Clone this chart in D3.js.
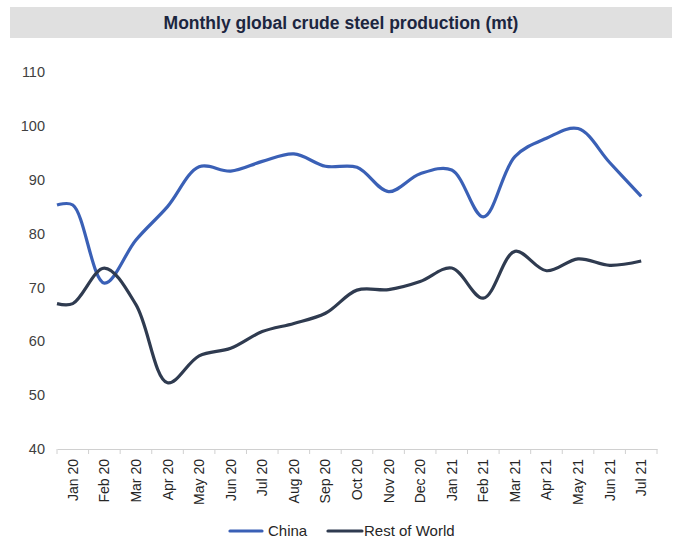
<!DOCTYPE html>
<html>
<head>
<meta charset="utf-8">
<script src="https://cdn.jsdelivr.net/npm/d3@7"></script>
<style>
  body { margin: 0; background: #fff; font-family: "Liberation Sans", Arial, sans-serif; }
</style>
</head>
<body>
<script>
// data
const months = ['Jan 20', 'Feb 20', 'Mar 20', 'Apr 20', 'May 20', 'Jun 20', 'Jul 20', 'Aug 20', 'Sep 20',
  'Oct 20', 'Nov 20', 'Dec 20', 'Jan 21', 'Feb 21', 'Mar 21', 'Apr 21', 'May 21', 'Jun 21', 'Jul 21'];
const china = [85.3, 70.8, 78.8, 85.0, 92.4, 91.6, 93.4, 94.8, 92.5, 92.3, 87.8, 91.1, 91.8, 83.1, 94.3, 97.7, 99.5, 93.2, 86.9];
const restOfWorld = [67.0, 73.6, 66.8, 52.3, 57.3, 58.7, 61.8, 63.3, 65.2, 69.5, 69.6, 71.1, 73.6, 68.0, 76.7, 73.1, 75.3, 74.1, 74.9];
const yTicks = [40, 50, 60, 70, 80, 90, 100, 110];

const series = [
  { name: 'China', values: china, color: '#3a60b6' },
  { name: 'Rest of World', values: restOfWorld, color: '#2f3b50' }
];

const width = 683;
const height = 554;

const svg = d3.select('body').append('svg')
  .attr('width', width)
  .attr('height', height);

// title band
svg.append('rect')
  .attr('x', 10).attr('y', 7)
  .attr('width', 662).attr('height', 31)
  .attr('fill', '#e0e0e0');

svg.append('text')
  .attr('x', 341).attr('y', 29)
  .attr('text-anchor', 'middle')
  .attr('font-size', 17.5)
  .attr('font-weight', 'bold')
  .attr('fill', '#1c2640')
  .text('Monthly global crude steel production (mt)');

const x = d3.scaleBand()
  .domain(months)
  .range([57, 657]);

const y = d3.scaleLinear()
  .domain([40, 110])
  .range([449, 72]);

// y axis labels only
svg.append('g')
  .attr('transform', 'translate(57,0)')
  .call(d3.axisLeft(y).tickValues(yTicks).tickSize(0).tickPadding(12))
  .call(g => g.select('.domain').remove())
  .selectAll('text')
  .attr('font-size', 14.5)
  .attr('font-family', '"Liberation Sans", Arial, sans-serif')
  .attr('fill', '#404040');

// x axis
const xAxis = svg.append('g')
  .attr('transform', 'translate(0,449)')
  .call(d3.axisBottom(x).tickSize(0).tickPadding(0));

xAxis.select('.domain').attr('stroke', '#d0d0d0');

// tick marks between categories
xAxis.selectAll('line.sep')
  .data(months.concat(['end']))
  .enter().append('line')
  .attr('class', 'sep')
  .attr('x1', (d, i) => x.range()[0] + i * x.step())
  .attr('x2', (d, i) => x.range()[0] + i * x.step())
  .attr('y1', 0).attr('y2', 5)
  .attr('stroke', '#d0d0d0');

xAxis.selectAll('.tick text')
  .attr('font-size', 14)
  .attr('font-family', '"Liberation Sans", Arial, sans-serif')
  .attr('fill', '#262626')
  .attr('text-anchor', 'end')
  .attr('transform', 'translate(5,10) rotate(-90)')
  .attr('dy', 0)
  .attr('x', 0)
  .attr('y', 0);

// lines (flat lead-in from the left edge of the plot, like the reference)
const line = d3.line()
  .x(d => d[0])
  .y(d => y(d[1]))
  .curve(d3.curveCatmullRom.alpha(0.5));

series.forEach(s => {
  const pts = s.values.map((v, i) => [x(months[i]) + x.bandwidth() / 2, v]);
  pts.unshift([x.range()[0], s.values[0]]);
  svg.append('path')
    .datum(pts)
    .attr('d', line)
    .attr('fill', 'none')
    .attr('stroke', s.color)
    .attr('stroke-width', 3.2)
    .attr('stroke-linejoin', 'round');
});

// legend
const legendPos = [{ x1: 230, x2: 262, tx: 268 }, { x1: 328, x2: 362, tx: 364 }];
const legend = svg.append('g');
series.forEach((s, i) => {
  const p = legendPos[i];
  legend.append('line')
    .attr('x1', p.x1).attr('x2', p.x2)
    .attr('y1', 531).attr('y2', 531)
    .attr('stroke', s.color)
    .attr('stroke-width', 3.2)
    .attr('stroke-linecap', 'round');
  legend.append('text')
    .attr('x', p.tx).attr('y', 536)
    .attr('font-size', 15)
    .attr('fill', '#262626')
    .text(s.name);
});
</script>
</body>
</html>
